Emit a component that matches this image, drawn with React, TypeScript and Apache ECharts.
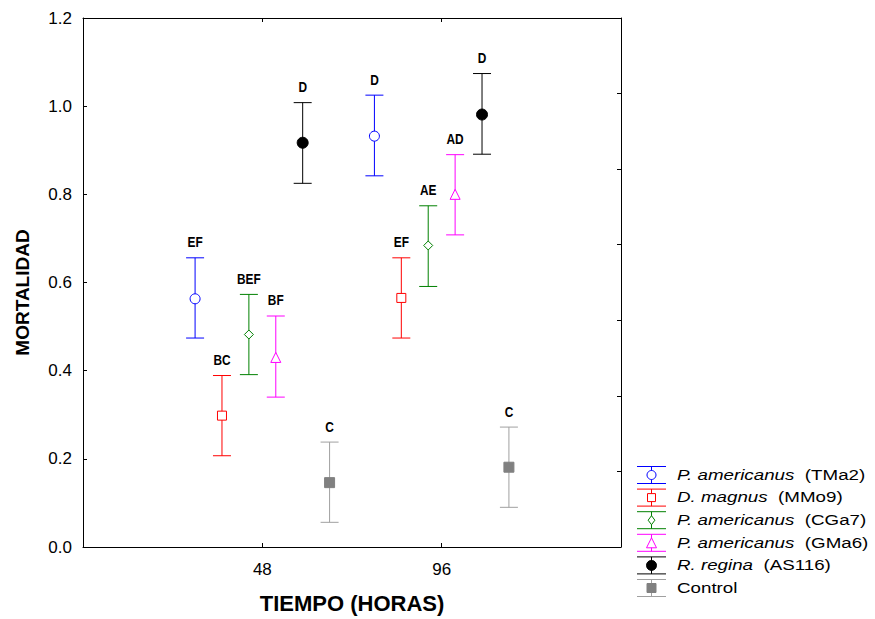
import React, { useEffect, useRef } from "react";
import * as echarts from "echarts";

const FONT = "'Liberation Sans', Arial, Helvetica, sans-serif";

// Time points (hours) and tick labels
const timePoints = [48, 96];
const xTickLabels = ["48", "96"];

// Series identity
const seriesCodes = ["TMa2", "MMo9", "CGa7", "GMa6", "AS116", "Control"];
const speciesNames = ["P. americanus", "D. magnus", "P. americanus", "P. americanus", "R. regina", ""];
const seriesColors = ["#0000ff", "#ff0000", "#008000", "#ff00ff", "#000000", "#808080"];
const lineColors = ["#0000ff", "#ff0000", "#008000", "#ff00ff", "#000000", "#a0a0a0"];
const symbols = ["circle", "rect", "diamond", "triangle", "circle", "rect"];
const filled = [false, false, false, false, true, true];
const symbolSizes = [10, 9, 9, 10, 11, 10];

// Mean mortality, lower and upper error-bar limits, letters (48 h, 96 h)
const meanTMa2 = [0.563, 0.932];
const lowTMa2 = [0.474, 0.842];
const highTMa2 = [0.656, 1.025];
const lettersTMa2 = ["EF", "D"];

const meanMMo9 = [0.298, 0.565];
const lowMMo9 = [0.207, 0.474];
const highMMo9 = [0.389, 0.656];
const lettersMMo9 = ["BC", "EF"];

const meanCGa7 = [0.482, 0.684];
const lowCGa7 = [0.391, 0.591];
const highCGa7 = [0.573, 0.774];
const lettersCGa7 = ["BEF", "AE"];

const meanGMa6 = [0.430, 0.800];
const lowGMa6 = [0.340, 0.708];
const highGMa6 = [0.524, 0.890];
const lettersGMa6 = ["BF", "AD"];

const meanAS116 = [0.917, 0.981];
const lowAS116 = [0.825, 0.891];
const highAS116 = [1.008, 1.074];
const lettersAS116 = ["D", "D"];

const meanControl = [0.146, 0.181];
const lowControl = [0.056, 0.090];
const highControl = [0.238, 0.272];
const lettersControl = ["C", "C"];

const means = [meanTMa2, meanMMo9, meanCGa7, meanGMa6, meanAS116, meanControl];
const lows = [lowTMa2, lowMMo9, lowCGa7, lowGMa6, lowAS116, lowControl];
const highs = [highTMa2, highMMo9, highCGa7, highGMa6, highAS116, highControl];
const letters = [lettersTMa2, lettersMMo9, lettersCGa7, lettersGMa6, lettersAS116, lettersControl];

const DODGE_STEP = 7.2; // hours between neighbouring series within a group

function markerGraphic(kind: string, cx: number, cy: number, size: number, color: string, fill: boolean) {
  const style = { fill: fill ? color : "#fff", stroke: color, lineWidth: 1 };
  const h = size / 2;
  if (kind === "circle") return { type: "circle", shape: { cx, cy, r: h - 0.5 }, style };
  if (kind === "rect") return { type: "rect", shape: { x: cx - h + 0.5, y: cy - h + 0.5, width: size - 1, height: size - 1 }, style };
  if (kind === "diamond")
    return { type: "polygon", shape: { points: [[cx, cy - h], [cx + h * 0.75, cy], [cx, cy + h], [cx - h * 0.75, cy]] }, style };
  return { type: "polygon", shape: { points: [[cx, cy - h], [cx + h, cy + h], [cx - h, cy + h]] }, style };
}

export default function App() {
  const ref = useRef<HTMLDivElement>(null);
  useEffect(() => {
    if (!ref.current) return;
    const chart = echarts.init(ref.current, null, { renderer: "svg" });

    const series: any[] = [];
    seriesCodes.forEach((code, i) => {
      const offset = (i - (seriesCodes.length - 1) / 2) * DODGE_STEP;
      const data = timePoints.map((t, j) => [t + offset, means[i][j], lows[i][j], highs[i][j]]);
      const col = lineColors[i];
      series.push({
        type: "custom",
        name: code,
        xAxisIndex: 0,
        yAxisIndex: 0,
        z: 2,
        encode: { x: 0, y: [1, 2, 3] },
        data,
        renderItem: (params: any, api: any) => {
          const x = api.value(0);
          const pLo = api.coord([x, api.value(2)]);
          const pHi = api.coord([x, api.value(3)]);
          const cap = 9;
          const ls = { stroke: col, lineWidth: 1 };
          return {
            type: "group",
            children: [
              { type: "line", shape: { x1: pLo[0], y1: pLo[1], x2: pHi[0], y2: pHi[1] }, style: ls },
              { type: "line", shape: { x1: pHi[0] - cap, y1: pHi[1], x2: pHi[0] + cap, y2: pHi[1] }, style: ls },
              { type: "line", shape: { x1: pLo[0] - cap, y1: pLo[1], x2: pLo[0] + cap, y2: pLo[1] }, style: ls },
              {
                type: "text",
                x: pHi[0],
                y: pHi[1] - 8,
                scaleX: 0.82,
                style: {
                  text: letters[i][params.dataIndex],
                  fill: "#000",
                  font: `bold 14.5px ${FONT}`,
                  align: "center",
                  verticalAlign: "bottom",
                },
              },
            ],
          };
        },
      });
      series.push({
        type: "scatter",
        name: code + " mean",
        xAxisIndex: 0,
        yAxisIndex: 0,
        z: 3,
        symbol: symbols[i],
        symbolSize: symbolSizes[i],
        itemStyle: {
          color: filled[i] ? seriesColors[i] : "#fff",
          borderColor: seriesColors[i],
          borderWidth: 1,
          opacity: 1,
        },
        data: data.map((d) => [d[0], d[1]]),
      });
    });

    // Legend drawn as graphics
    const legendChildren: any[] = [];
    const lx0 = 637, lx1 = 666, lcx = 651.5, ly0 = 475, lstep = 22.6, lcap = 8.5;
    seriesCodes.forEach((code, i) => {
      const cy = ly0 + i * lstep;
      const ls = { stroke: lineColors[i], lineWidth: 1 };
      legendChildren.push({ type: "line", shape: { x1: lcx, y1: cy - lcap, x2: lcx, y2: cy + lcap }, style: ls });
      legendChildren.push({ type: "line", shape: { x1: lx0, y1: cy - lcap, x2: lx1, y2: cy - lcap }, style: ls });
      legendChildren.push({ type: "line", shape: { x1: lx0, y1: cy + lcap, x2: lx1, y2: cy + lcap }, style: ls });
      legendChildren.push(markerGraphic(symbols[i], lcx, cy, symbolSizes[i], seriesColors[i], filled[i]));
      const sp = speciesNames[i];
      legendChildren.push({
        type: "text",
        x: 677,
        y: cy,
        scaleX: 1.25,
        style: {
          text: sp ? `{it|${sp}}  {n|(${code})}` : `{n|${code}}`,
          verticalAlign: "middle",
          align: "left",
          font: `15px ${FONT}`,
          fill: "#000",
          rich: {
            it: { fontStyle: "italic", fontSize: 15, fontFamily: FONT, fill: "#000" },
            n: { fontSize: 15, fontFamily: FONT, fill: "#000" },
          },
        },
      });
    });

    const axisLine = { show: true, onZero: false, lineStyle: { color: "#000", width: 1 } };
    const tick = { show: true, inside: true, length: 4, lineStyle: { color: "#000" } };

    chart.setOption({
      animation: false,
      backgroundColor: "#fff",
      grid: { left: 83, right: 254, top: 18, bottom: 66, containLabel: false },
      xAxis: [
        {
          type: "value",
          position: "bottom",
          min: 0,
          max: 144,
          interval: 48,
          axisLine,
          axisTick: tick,
          splitLine: { show: false },
          axisLabel: {
            color: "#000",
            fontSize: 17,
            fontFamily: FONT,
            margin: 14,
            formatter: (v: number) => {
              const k = timePoints.indexOf(v);
              return k >= 0 ? xTickLabels[k] : "";
            },
          },
          name: "TIEMPO (HORAS)",
          nameLocation: "middle",
          nameGap: 45,
          nameTextStyle: { color: "#000", fontWeight: "bold", fontSize: 22, fontFamily: FONT },
        },
        {
          type: "value",
          position: "top",
          min: 0,
          max: 144,
          interval: 48,
          axisLine,
          axisTick: tick,
          splitLine: { show: false },
          axisLabel: { show: false },
        },
      ],
      yAxis: [
        {
          type: "value",
          position: "left",
          min: 0,
          max: 1.2,
          interval: 0.2,
          axisLine,
          axisTick: tick,
          splitLine: { show: false },
          axisLabel: {
            color: "#000",
            fontSize: 17,
            fontFamily: FONT,
            margin: 11,
            formatter: (v: number) => v.toFixed(1),
          },
          name: "MORTALIDAD",
          nameLocation: "middle",
          nameGap: 51,
          nameTextStyle: { color: "#000", fontWeight: "bold", fontSize: 19, fontFamily: FONT, padding: [0, 20, 0, 0] },
        },
        {
          type: "value",
          position: "right",
          min: 0,
          max: 7,
          interval: 1,
          axisLine,
          axisTick: tick,
          splitLine: { show: false },
          axisLabel: { show: false },
        },
      ],
      graphic: [{ type: "group", children: legendChildren }],
      series,
    });
    return () => chart.dispose();
  }, []);
  return <div ref={ref} style={{ width: 875, height: 619, position: "absolute", left: 0, top: 0 }} />;
}
